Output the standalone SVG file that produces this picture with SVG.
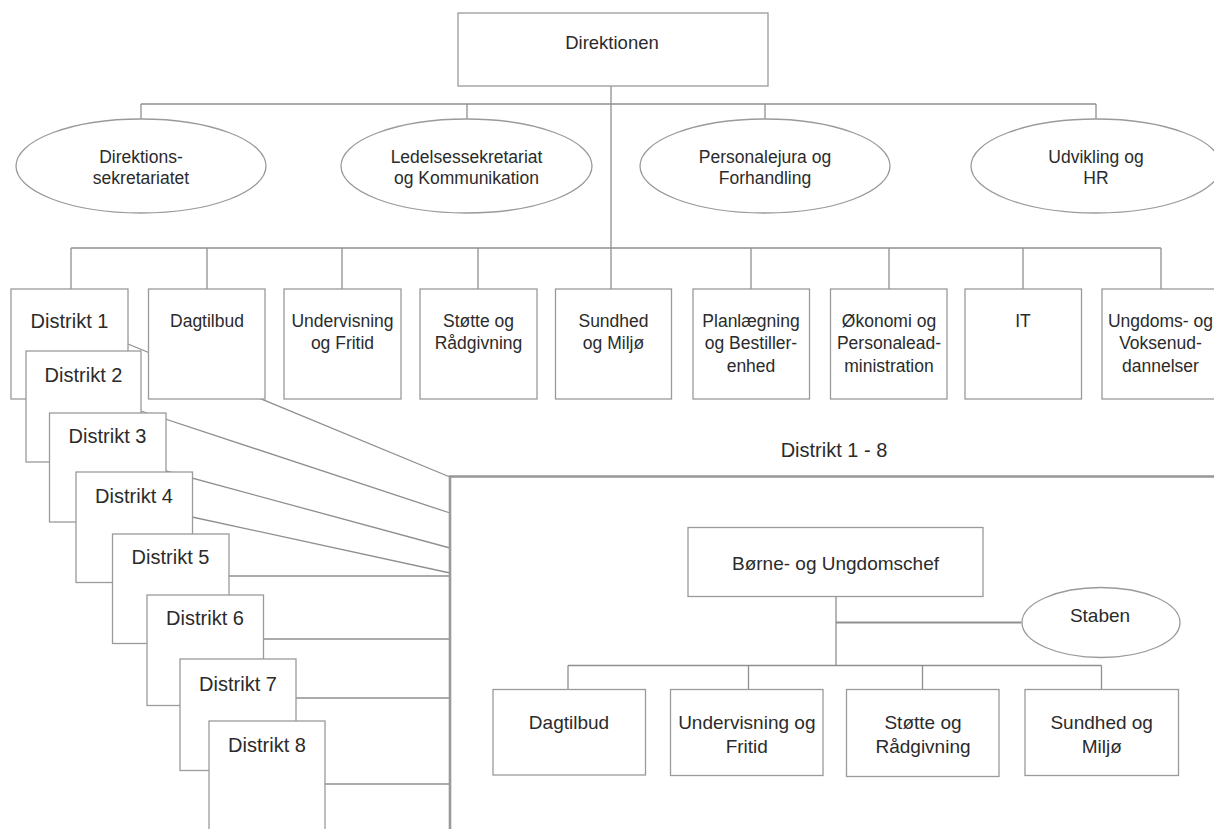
<svg xmlns="http://www.w3.org/2000/svg" width="1214" height="829" viewBox="0 0 1214 829">
<style>
.bg{fill:#ffffff}
.box{fill:#ffffff;stroke:#9a9a9a;stroke-width:1.3}
.ell{fill:#ffffff;stroke:#9a9a9a;stroke-width:1.3}
.ln{fill:none;stroke:#8f8f8f;stroke-width:1.3}
.big{fill:#ffffff;stroke:#9a9a9a;stroke-width:2.6}
text{font-family:"Liberation Sans",Arial,sans-serif;fill:#2b2b2b;text-anchor:middle}
.t{font-size:17.5px}
.d{font-size:20px}
.l{font-size:19px}
</style>
<rect class="bg" x="0" y="0" width="1214" height="829"/>

<g id="connectors">
  <!-- top to ellipses -->
  <line class="ln" x1="611" y1="86" x2="611" y2="289"/>
  <line class="ln" x1="141" y1="104" x2="1096" y2="104"/>
  <line class="ln" x1="141" y1="104" x2="141" y2="119"/>
  <line class="ln" x1="467" y1="104" x2="467" y2="119"/>
  <line class="ln" x1="765" y1="104" x2="765" y2="119"/>
  <line class="ln" x1="1096" y1="104" x2="1096" y2="119"/>
  <!-- row -->
  <line class="ln" x1="71" y1="248" x2="1161" y2="248"/>
  <line class="ln" x1="71" y1="248" x2="71" y2="289"/>
  <line class="ln" x1="207" y1="248" x2="207" y2="289"/>
  <line class="ln" x1="342" y1="248" x2="342" y2="289"/>
  <line class="ln" x1="478" y1="248" x2="478" y2="289"/>
  <line class="ln" x1="751" y1="248" x2="751" y2="289"/>
  <line class="ln" x1="889" y1="248" x2="889" y2="289"/>
  <line class="ln" x1="1023" y1="248" x2="1023" y2="289"/>
  <line class="ln" x1="1161" y1="248" x2="1161" y2="289"/>
  <!-- districts to big box -->
  <line class="ln" x1="128" y1="344" x2="450" y2="477"/>
  <line class="ln" x1="141" y1="411" x2="450" y2="513"/>
  <line class="ln" x1="166" y1="471" x2="450" y2="548"/>
  <line class="ln" x1="192" y1="517" x2="450" y2="573"/>
  <line class="ln" x1="229" y1="576" x2="450" y2="576"/>
  <line class="ln" x1="263" y1="639" x2="450" y2="639"/>
  <line class="ln" x1="296" y1="698" x2="450" y2="698"/>
  <line class="ln" x1="325" y1="784" x2="450" y2="784"/>
</g>

<g id="direktionen">
  <rect class="box" x="458" y="13" width="310" height="73"/>
  <text class="t" style="font-size:18.5px" x="612" y="49">Direktionen</text>
</g>

<g id="direktionssekretariatet">
  <ellipse class="ell" cx="141" cy="166" rx="125" ry="47"/>
  <text class="t" x="141" y="162.5">Direktions-</text>
  <text class="t" x="141" y="184">sekretariatet</text>
</g>
<g id="ledelsessekretariat">
  <ellipse class="ell" cx="466.5" cy="166" rx="125.5" ry="47"/>
  <text class="t" x="466.5" y="162.5">Ledelsessekretariat</text>
  <text class="t" x="466.5" y="184">og Kommunikation</text>
</g>
<g id="personalejura">
  <ellipse class="ell" cx="765" cy="166" rx="125" ry="47"/>
  <text class="t" x="765" y="162.5">Personalejura og</text>
  <text class="t" x="765" y="184">Forhandling</text>
</g>
<g id="udvikling">
  <ellipse class="ell" cx="1096" cy="166" rx="125" ry="47"/>
  <text class="t" x="1096" y="162.5">Udvikling og</text>
  <text class="t" x="1096" y="184">HR</text>
</g>

<g id="dagtilbud">
  <rect class="box" x="148.5" y="289" width="116.5" height="110"/>
  <text class="t" x="207" y="327">Dagtilbud</text>
</g>
<g id="undervisning">
  <rect class="box" x="284" y="289" width="117" height="110"/>
  <text class="t" x="342.5" y="327">Undervisning</text>
  <text class="t" x="342.5" y="349">og Fritid</text>
</g>
<g id="stotte">
  <rect class="box" x="420" y="289" width="117" height="110"/>
  <text class="t" x="478.5" y="327">Støtte og</text>
  <text class="t" x="478.5" y="349">Rådgivning</text>
</g>
<g id="sundhed">
  <rect class="box" x="555.5" y="289" width="116" height="110"/>
  <text class="t" x="613.5" y="327">Sundhed</text>
  <text class="t" x="613.5" y="349">og Miljø</text>
</g>
<g id="planlaegning">
  <rect class="box" x="693" y="289" width="116.5" height="110"/>
  <text class="t" x="751" y="327">Planlægning</text>
  <text class="t" x="751" y="349">og Bestiller-</text>
  <text class="t" x="751" y="372">enhed</text>
</g>
<g id="okonomi">
  <rect class="box" x="830.5" y="289" width="116.5" height="110"/>
  <text class="t" x="889" y="327">Økonomi og</text>
  <text class="t" x="889" y="349">Personalead-</text>
  <text class="t" x="889" y="372">ministration</text>
</g>
<g id="it">
  <rect class="box" x="965" y="289" width="116.5" height="110"/>
  <text class="t" x="1023" y="327">IT</text>
</g>
<g id="ungdoms">
  <rect class="box" x="1102" y="289" width="117" height="110"/>
  <text class="t" x="1160.5" y="327">Ungdoms- og</text>
  <text class="t" x="1160.5" y="349">Voksenud-</text>
  <text class="t" x="1160.5" y="372">dannelser</text>
</g>

<g id="distrikt1">
  <rect class="box" x="11" y="289" width="117" height="110"/>
  <text class="d" x="69.5" y="328">Distrikt 1</text>
</g>
<g id="distrikt2">
  <rect class="box" x="26" y="351" width="115" height="111"/>
  <text class="d" x="83.5" y="382">Distrikt 2</text>
</g>
<g id="distrikt3">
  <rect class="box" x="49.5" y="413" width="116.5" height="109"/>
  <text class="d" x="107.5" y="443">Distrikt 3</text>
</g>
<g id="distrikt4">
  <rect class="box" x="76" y="472" width="116.5" height="110.5"/>
  <text class="d" x="134" y="503">Distrikt 4</text>
</g>
<g id="distrikt5">
  <rect class="box" x="112.5" y="534" width="116.5" height="109.5"/>
  <text class="d" x="170.5" y="564">Distrikt 5</text>
</g>
<g id="distrikt6">
  <rect class="box" x="147" y="595" width="116.5" height="110.5"/>
  <text class="d" x="205" y="625">Distrikt 6</text>
</g>
<g id="distrikt7">
  <rect class="box" x="180" y="659" width="116" height="111.5"/>
  <text class="d" x="238" y="691">Distrikt 7</text>
</g>
<g id="distrikt8">
  <rect class="box" x="209" y="721" width="116" height="120"/>
  <text class="d" x="267" y="752">Distrikt 8</text>
</g>

<g id="distrikt-label">
  <text class="d" x="834" y="456.5">Distrikt 1 - 8</text>
</g>

<g id="distrikt-frame">
  <rect class="big" x="450" y="476.5" width="800" height="400"/>
</g>

<g id="inner-connectors">
  <line class="ln" x1="836" y1="597" x2="836" y2="665.5"/>
  <line class="ln" style="stroke-width:2.2" x1="836" y1="622.5" x2="1021.5" y2="622.5"/>
  <line class="ln" x1="568" y1="665.5" x2="1101.5" y2="665.5"/>
  <line class="ln" x1="568" y1="665.5" x2="568" y2="689.5"/>
  <line class="ln" x1="748.5" y1="665.5" x2="748.5" y2="689.5"/>
  <line class="ln" x1="922.5" y1="665.5" x2="922.5" y2="689.5"/>
  <line class="ln" x1="1101.5" y1="665.5" x2="1101.5" y2="689.5"/>
</g>

<g id="borne-ungdomschef">
  <rect class="box" x="688" y="527.5" width="295" height="69"/>
  <text class="l" x="835.5" y="570">Børne- og Ungdomschef</text>
</g>
<g id="staben">
  <ellipse class="ell" cx="1101" cy="622.5" rx="79" ry="35"/>
  <text class="l" x="1100" y="621.5">Staben</text>
</g>
<g id="d-dagtilbud">
  <rect class="box" x="493" y="689.5" width="152.5" height="85.5"/>
  <text class="l" x="569" y="729">Dagtilbud</text>
</g>
<g id="d-undervisning">
  <rect class="box" x="670.5" y="689.5" width="152.5" height="86"/>
  <text class="l" x="746.8" y="729">Undervisning og</text>
  <text class="l" x="746.8" y="753">Fritid</text>
</g>
<g id="d-stotte">
  <rect class="box" x="846.5" y="689.5" width="152.5" height="87"/>
  <text class="l" x="923" y="729">Støtte og</text>
  <text class="l" x="923" y="753">Rådgivning</text>
</g>
<g id="d-sundhed">
  <rect class="box" x="1025" y="689.5" width="153.5" height="86"/>
  <text class="l" x="1101.7" y="729">Sundhed og</text>
  <text class="l" x="1101.7" y="753">Miljø</text>
</g>
</svg>
